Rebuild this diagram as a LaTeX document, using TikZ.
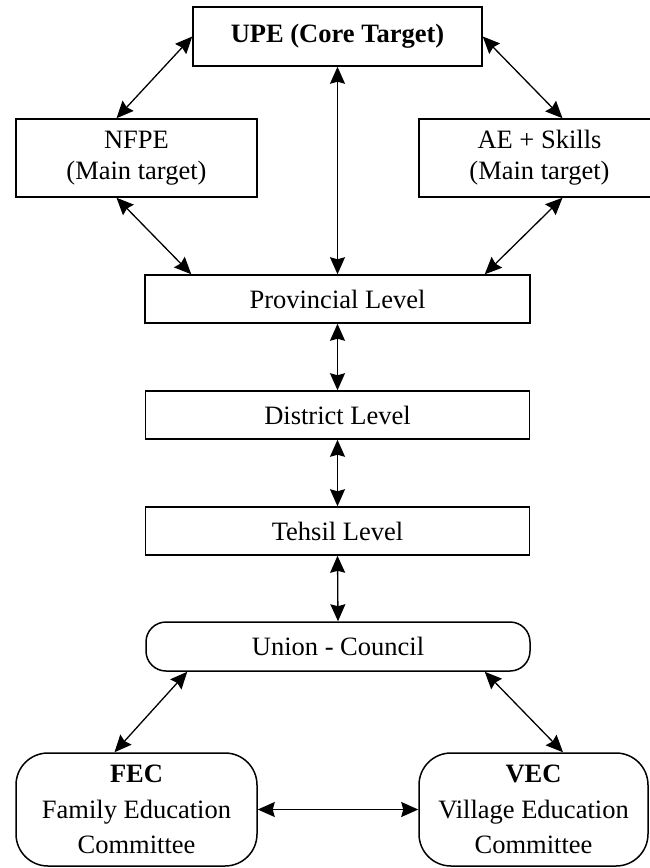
\documentclass[tikz,border=0pt]{standalone}
\usepackage{fontspec}
\setmainfont{Liberation Serif}
\usetikzlibrary{arrows.meta}

\begin{document}
\begin{tikzpicture}[x=0.5pt, y=-0.5pt,
    every node/.style={draw, line width=0.75pt, inner sep=0pt, align=center,
        font=\fontsize{13.25}{15.5}\selectfont},
    box/.style={rectangle, minimum width=#1, minimum height=24pt},
    target/.style={rectangle, minimum width=120.5pt, minimum height=39pt},
    committee/.style={rectangle, rounded corners=16pt, minimum height=56.5pt,
        minimum width=#1, font=\fontsize{13.25}{17.7}\selectfont},
    link/.style={line width=0.65pt, {Stealth[length=8.5pt,width=7.5pt,inset=1pt]}-{Stealth[length=8.5pt,width=7.5pt,inset=1pt]}}]

    \useasboundingbox (0,0) rectangle (649,868);

    \node[rectangle, minimum width=144.5pt, minimum height=29.5pt] (upe) at (337.5,36.5) {\textbf{UPE (Core Target)}};
    \node[target] (nfpe) at (136.5,158) {NFPE\\(Main target)};
    \node[target] (ae) at (539.5,158) {AE + Skills\\(Main target)};

    \node[box=192.5pt] (prov) at (337.5,299) {Provincial Level};
    \node[box=192pt] (dist) at (337.5,415) {District Level};
    \node[box=192pt] (teh) at (337.5,531) {Tehsil Level};
    \node[box=192pt, rounded corners=10pt, minimum height=24.5pt] (uc) at (338,646.5) {Union - Council};

    \node[committee=120.5pt] (fec) at (136.5,809.5) {\textbf{FEC}\\Family Education\\Committee};
    \node[committee=114.5pt] (vec) at (533.5,809.5) {\textbf{VEC}\\Village Education\\Committee};

    \draw[link] (upe.west) -- ([xshift=-10pt]nfpe.north);
    \draw[link] (upe.east) -- ([xshift=11.5pt]ae.north);
    \draw[link] (upe.south) -- (prov.north);
    \draw[link] ([xshift=-10pt]nfpe.south) -- ([xshift=23.5pt]prov.north west);
    \draw[link] ([xshift=11.5pt]ae.south) -- ([xshift=-23pt]prov.north east);

    \draw[link] (prov.south) -- (dist.north);
    \draw[link] (dist.south) -- (teh.north);
    \draw[link] (teh.south) -- (uc.north);

    \draw[link] ([xshift=21pt]uc.south west) -- ([xshift=-11pt]fec.north);
    \draw[link] ([xshift=-23pt]uc.south east) -- ([xshift=14.75pt]vec.north);
    \draw[link] (fec.east) -- (vec.west);

\end{tikzpicture}
\end{document}
